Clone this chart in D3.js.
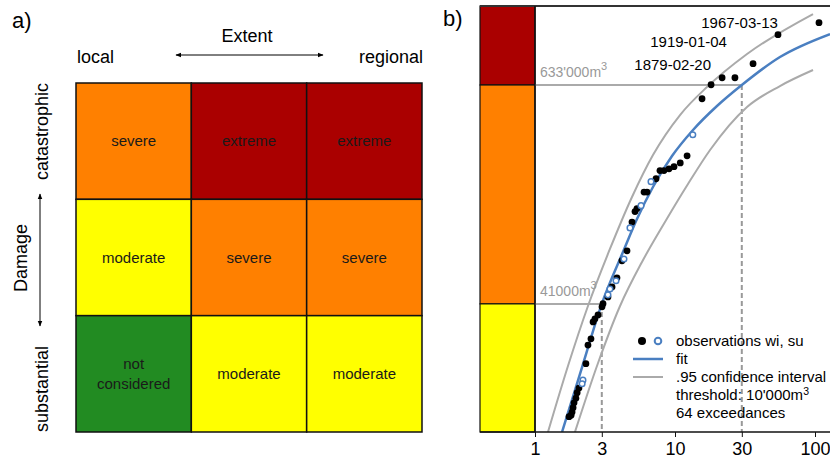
<!DOCTYPE html>
<html>
<head>
<meta charset="utf-8">
<script src="https://cdn.jsdelivr.net/npm/d3@7"></script>
<style>
  body { margin: 0; background: #fff; }
  svg { font-family: "Liberation Sans", Arial, sans-serif; }
</style>
</head>
<body>
<div id="plot"></div>
<script>
// ---- panel a data
var extentLabels = ["local", "regional"];
var damageLabels = ["catastrophic", "substantial"];
var cellLabels = [
  ["severe", "extreme", "extreme"],
  ["moderate", "severe", "severe"],
  ["not considered", "moderate", "moderate"]
];

// ---- panel b data (return period in years, volume in m3)
var obsWinter = [
  [106.8, 1380000], [54.4, 1188000], [36.1, 826000], [26.8, 693000], [21.7, 693000],
  [18.1, 635000], [15.6, 533000], [12.2, 261000], [10.9, 239000], [9.84, 228000],
  [9.06, 222000], [8.34, 217000], [7.81, 217000], [7.32, 196000], [6.31, 166000],
  [6.01, 166000], [5.35, 135000], [5.18, 130000], [4.93, 114000], [4.54, 79600],
  [4.18, 70300], [3.85, 56800], [3.55, 50700], [3.32, 44700], [3.06, 41100],
  [3.01, 39500], [2.82, 35700], [2.68, 34000], [2.60, 32700], [2.51, 26500],
  [2.39, 24500], [2.31, 19400], [2.06, 14300], [2.00, 13500], [1.96, 12600],
  [1.90, 11900], [1.87, 11200], [1.84, 10600], [1.81, 10200], [1.75, 10000]
];
var obsSummer = [
  [13.4, 340000], [6.74, 189000], [5.72, 140000], [4.77, 106000], [4.32, 71900],
  [3.79, 54700], [3.43, 49400], [3.32, 45900], [2.20, 15800], [2.17, 15100]
];
var fitCurve = [
  [1.56, 8260], [2.17, 18600], [3.0, 41000], [4.25, 78400], [5.35, 118500],
  [6.96, 176800], [9.52, 260400], [13.45, 360600], [19.95, 486800], [30, 633000],
  [56.2, 898400], [128, 1197000]
];
var ciUpper = [
  [1.238, 8260], [1.72, 18860], [2.39, 39930], [3.43, 81440], [4.93, 156100],
  [6.96, 263800], [10.86, 435000], [16.93, 617300], [32.7, 932700], [96.8, 1538000]
];
var ciLower = [
  [1.93, 8260], [2.82, 19570], [4.05, 39930], [5.81, 69230], [8.48, 114100],
  [12.38, 183500], [17.8, 280800], [32.7, 480800], [56.2, 625000], [96.8, 763300]
];
var thresholds = [
  {t: 3, v: 41000, label: "41000m"},
  {t: 30, v: 633000, label: "633'000m"}
];
var events = [
  {date: "1967-03-13", t: 54.4, v: 1290000},
  {date: "1919-01-04", t: 23.5, v: 1020000},
  {date: "1879-02-20", t: 18.1, v: 764000}
];
var xTicks = [1, 3, 10, 30, 100];
var legendItems = ["observations wi, su", "fit", ".95 confidence interval"];

var colors = {extreme: "#aa0000", severe: "#ff8000", moderate: "#ffff00", "not considered": "#228b22"};
var blue = "#4a7fc1", gray = "#aaaaaa";

var svg = d3.select("div#plot")
  .append("svg")
    .attr("width", 830)
    .attr("height", 459);

// arrow head
svg.append("defs").append("marker")
    .attr("id", "arr")
    .attr("viewBox", "0 0 10 10")
    .attr("refX", 9).attr("refY", 5)
    .attr("markerWidth", 6).attr("markerHeight", 6)
    .attr("orient", "auto-start-reverse")
  .append("path")
    .attr("d", "M0,1L10,5L0,9z")
    .attr("fill", "#000");

// ================= panel a
var colScale = d3.scaleBand().domain([0, 1, 2]).range([76, 422]);
var rowScale = d3.scaleBand().domain([0, 1, 2]).range([83, 432]);

var cells = [];
cellLabels.forEach(function(row, i) {
  row.forEach(function(lab, j) { cells.push({r: i, c: j, label: lab}); });
});

var ga = svg.append("g");
ga.selectAll("rect")
  .data(cells)
  .enter()
  .append("rect")
    .attr("x", d => colScale(d.c))
    .attr("y", d => rowScale(d.r))
    .attr("width", colScale.bandwidth())
    .attr("height", rowScale.bandwidth())
    .attr("fill", d => colors[d.label])
    .attr("stroke", "#111")
    .attr("stroke-width", 1.5);

ga.selectAll("text.cell")
  .data(cells)
  .enter()
  .append("text")
    .attr("class", "cell")
    .attr("text-anchor", "middle")
    .attr("font-size", 15)
    .attr("fill", "#1a1a1a")
    .each(function(d) {
      var words = d.label == "not considered" ? ["not", "considered"] : [d.label];
      var cx = colScale(d.c) + colScale.bandwidth() / 2;
      var cy = rowScale(d.r) + rowScale.bandwidth() / 2;
      var t = d3.select(this);
      words.forEach(function(w, k) {
        t.append("tspan")
          .attr("x", cx)
          .attr("y", cy + 5 + (k - (words.length - 1) / 2) * 20)
          .text(w);
      });
    });

svg.append("text").attr("x", 12).attr("y", 28).attr("font-size", 22).text("a)");
svg.append("text").attr("x", 247).attr("y", 42).attr("font-size", 18)
  .attr("text-anchor", "middle").text("Extent");
svg.append("text").attr("x", 77).attr("y", 63).attr("font-size", 18).text(extentLabels[0]);
svg.append("text").attr("x", 423).attr("y", 63).attr("font-size", 18)
  .attr("text-anchor", "end").text(extentLabels[1]);
svg.append("line")
  .attr("x1", 176).attr("x2", 323).attr("y1", 55).attr("y2", 55)
  .attr("stroke", "#000").attr("stroke-width", 1)
  .attr("marker-start", "url(#arr)").attr("marker-end", "url(#arr)");

svg.append("text").attr("font-size", 18).attr("text-anchor", "end")
  .attr("transform", "translate(48,83) rotate(-90)").text(damageLabels[0]);
svg.append("text").attr("font-size", 18).attr("text-anchor", "start")
  .attr("transform", "translate(48,432) rotate(-90)").text(damageLabels[1]);
svg.append("text").attr("font-size", 18).attr("text-anchor", "middle")
  .attr("transform", "translate(27,258) rotate(-90)").text("Damage");
svg.append("line")
  .attr("x1", 40).attr("x2", 40).attr("y1", 194).attr("y2", 326)
  .attr("stroke", "#000").attr("stroke-width", 1)
  .attr("marker-start", "url(#arr)").attr("marker-end", "url(#arr)");

// ================= panel b
var x = d3.scaleLog().domain([1, 100]).range([535, 815]);
var y = d3.scaleLog().domain([8260, 1700000]).range([432, 6]);

svg.append("text").attr("x", 443).attr("y", 26).attr("font-size", 22).text("b)");

// hazard colour column
var bands = [
  {top: y.range()[1], bot: y(thresholds[1].v), fill: colors.extreme},
  {top: y(thresholds[1].v), bot: y(thresholds[0].v), fill: colors.severe},
  {top: y(thresholds[0].v), bot: y.range()[0], fill: colors.moderate}
];
svg.append("g").selectAll("rect")
  .data(bands)
  .enter()
  .append("rect")
    .attr("x", 480)
    .attr("y", d => d.top)
    .attr("width", 55)
    .attr("height", d => d.bot - d.top)
    .attr("fill", d => d.fill)
    .attr("stroke", "#111")
    .attr("stroke-width", 1.2);

svg.append("clipPath").attr("id", "clip")
  .append("rect").attr("x", 535).attr("y", 6).attr("width", 300).attr("height", 426);

var gb = svg.append("g").attr("clip-path", "url(#clip)");

// threshold guides
gb.selectAll("line.h")
  .data(thresholds)
  .enter()
  .append("line")
    .attr("x1", 535).attr("x2", d => x(d.t))
    .attr("y1", d => y(d.v)).attr("y2", d => y(d.v))
    .attr("stroke", gray).attr("stroke-width", 2);
gb.selectAll("line.v")
  .data(thresholds)
  .enter()
  .append("line")
    .attr("x1", d => x(d.t)).attr("x2", d => x(d.t))
    .attr("y1", d => y(d.v)).attr("y2", 432)
    .attr("stroke", "#999").attr("stroke-width", 2)
    .attr("stroke-dasharray", "5,3");

var line = d3.line()
  .x(d => x(d[0]))
  .y(d => y(d[1]))
  .curve(d3.curveMonotoneX);

[ciUpper, ciLower].forEach(function(c) {
  gb.append("path").datum(c)
    .attr("d", line).attr("fill", "none")
    .attr("stroke", gray).attr("stroke-width", 2);
});
gb.append("path").datum(fitCurve)
  .attr("d", line).attr("fill", "none")
  .attr("stroke", blue).attr("stroke-width", 2.5);

gb.selectAll("circle.w")
  .data(obsWinter)
  .enter()
  .append("circle")
    .attr("cx", d => x(d[0]))
    .attr("cy", d => y(d[1]))
    .attr("r", 3.4)
    .attr("fill", "#000");
gb.selectAll("circle.s")
  .data(obsSummer)
  .enter()
  .append("circle")
    .attr("cx", d => x(d[0]))
    .attr("cy", d => y(d[1]))
    .attr("r", 2.8)
    .attr("fill", "#fff")
    .attr("stroke", blue)
    .attr("stroke-width", 1.5);

// threshold labels
thresholds.forEach(function(d) {
  var t = svg.append("text")
    .attr("x", 540).attr("y", y(d.v) - 8)
    .attr("font-size", 14).attr("fill", "#999");
  t.append("tspan").text(d.label);
  t.append("tspan").attr("dy", -7).attr("font-size", 11).text("3");
});

// event labels
svg.selectAll("text.ev")
  .data(events)
  .enter()
  .append("text")
    .attr("x", d => x(d.t))
    .attr("y", d => y(d.v))
    .attr("text-anchor", "end")
    .attr("font-size", 15)
    .text(d => d.date);

// frame + axis
svg.append("line").attr("x1", 480).attr("x2", 830).attr("y1", 6).attr("y2", 6)
  .attr("stroke", "#333").attr("stroke-width", 2);
svg.append("line").attr("x1", 535).attr("x2", 535).attr("y1", 6).attr("y2", 432)
  .attr("stroke", "#111").attr("stroke-width", 1.5);
svg.append("line").attr("x1", 480).attr("x2", 830).attr("y1", 432).attr("y2", 432)
  .attr("stroke", "#111").attr("stroke-width", 1.5);

var xAxis = svg.append("g")
  .attr("transform", "translate(0,432)")
  .call(d3.axisBottom(x).tickValues(xTicks).tickFormat(d3.format("d")).tickSize(5).tickPadding(5));
xAxis.select(".domain").remove();
xAxis.selectAll("text").attr("font-size", 18).attr("font-family", "Liberation Sans, Arial, sans-serif").attr("fill", "#000");
xAxis.selectAll("line").attr("stroke", "#111");

// legend
var lg = svg.append("g");
lg.append("circle").attr("cx", 642).attr("cy", 341).attr("r", 4).attr("fill", "#000");
lg.append("circle").attr("cx", 658).attr("cy", 341).attr("r", 3.3)
  .attr("fill", "#fff").attr("stroke", blue).attr("stroke-width", 2);
lg.append("line").attr("x1", 633).attr("x2", 663).attr("y1", 359).attr("y2", 359)
  .attr("stroke", blue).attr("stroke-width", 2.5);
lg.append("line").attr("x1", 633).attr("x2", 663).attr("y1", 377).attr("y2", 377)
  .attr("stroke", gray).attr("stroke-width", 2);
lg.selectAll("text.it")
  .data(legendItems)
  .enter()
  .append("text")
    .attr("x", 676)
    .attr("y", (d, i) => 346 + i * 18)
    .attr("font-size", 15)
    .text(d => d);
var th = lg.append("text").attr("x", 676).attr("y", 400).attr("font-size", 15);
th.append("tspan").text("threshold: 10'000m");
th.append("tspan").attr("dy", -5).attr("font-size", 10.5).text("3");
lg.append("text").attr("x", 676).attr("y", 418).attr("font-size", 15).text("64 exceedances");
</script>
</body>
</html>
